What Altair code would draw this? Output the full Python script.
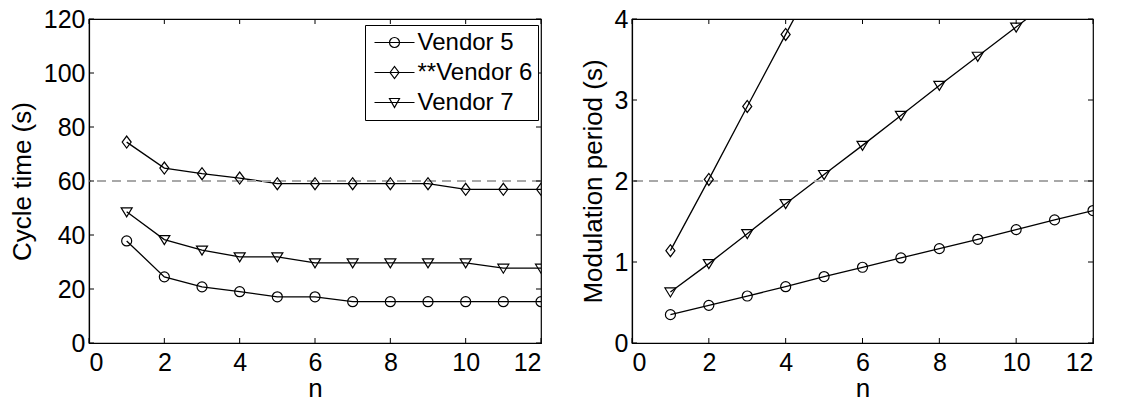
import altair as alt
import pandas as pd

# ---- data ----
n = list(range(1, 13))
vendors = ["Vendor 5", "**Vendor 6", "Vendor 7"]

cycle_v5 = [37.8, 24.5, 20.8, 19.0, 17.1, 17.1, 15.3, 15.3, 15.3, 15.3, 15.3, 15.3]
cycle_v6 = [74.4, 64.8, 62.7, 61.1, 59.0, 59.0, 59.0, 59.0, 59.0, 56.9, 56.9, 56.9]
cycle_v7 = [48.6, 38.3, 34.4, 31.9, 31.9, 29.7, 29.7, 29.7, 29.7, 29.7, 27.7, 27.7]

mod_v5 = [0.35, 0.465, 0.58, 0.695, 0.82, 0.935, 1.05, 1.165, 1.28, 1.40, 1.52, 1.635]
mod_v6 = [1.14, 2.02, 2.92, 3.81, 4.70]
mod_v7 = [0.63, 0.98, 1.35, 1.72, 2.08, 2.44, 2.81, 3.18, 3.54, 3.90, 4.27]

cycle_limit = 60
mod_limit = 2

x_ticks = [0, 2, 4, 6, 8, 10, 12]
cycle_ticks = [0, 20, 40, 60, 80, 100, 120]
mod_ticks = [0, 1, 2, 3, 4]

FONT = "Liberation Sans"
W1, W2, H = 452, 461, 324
TICK = 5


def long(series):
    rows = []
    for v, vals in zip(vendors, series):
        for i, y in enumerate(vals):
            rows.append({"n": n[i], "value": y, "vendor": v})
    return pd.DataFrame(rows)


cycle_df = long([cycle_v5, cycle_v6, cycle_v7])
mod_df = long([mod_v5, mod_v6, mod_v7])

marker_shapes = [
    "circle",
    "M-0.9,0L0,-1.2L0.9,0L0,1.2Z",
    "M-1.1,-0.8L1.1,-0.8L0,1Z",
]
legend_shapes = [
    "M-4,0H4M1,0A1,1,0,1,1,-1,0A1,1,0,1,1,1,0",
    "M-4,0H4M-0.9,0L0,-1.2L0.9,0L0,1.2Z",
    "M-4,0H4M-1,-0.8L1,-0.8L0,1Z",
]


def panel(df, ydom, yticks, ytitle, limit, width, with_legend):
    xs = alt.Scale(domain=[0, 12], nice=False, zero=False)
    ys = alt.Scale(domain=ydom, nice=False, zero=False)
    xa = alt.Axis(values=x_ticks, title="n", format="d")
    ya = alt.Axis(values=yticks, title=ytitle, format="d")
    x = alt.X("n:Q", scale=xs, axis=xa)
    y = alt.Y("value:Q", scale=ys, axis=ya)
    base = alt.Chart(df)

    ref = alt.Chart(df).mark_rule(color="#a8a8a8", strokeDash=[9, 6], strokeWidth=2).encode(
        y=alt.datum(limit)
    )
    lines = base.mark_line(color="black", strokeWidth=1.3, clip=True).encode(
        x=x, y=y, detail="vendor:N"
    )
    pts = base.mark_point(color="black", filled=False, size=100, strokeWidth=1.2, opacity=1, clip=True).encode(
        x=x, y=y,
        shape=alt.Shape("vendor:N", scale=alt.Scale(domain=vendors, range=marker_shapes), legend=None),
    )

    xt = pd.DataFrame({"n": x_ticks})
    yt = pd.DataFrame({"value": yticks})
    tick_b = alt.Chart(xt).mark_rule(color="black").encode(x=x, y=alt.value(H), y2=alt.value(H - TICK))
    tick_t = alt.Chart(xt).mark_rule(color="black").encode(x=x, y=alt.value(0), y2=alt.value(TICK))
    tick_l = alt.Chart(yt).mark_rule(color="black").encode(y=y, x=alt.value(0), x2=alt.value(TICK))
    tick_r = alt.Chart(yt).mark_rule(color="black").encode(y=y, x=alt.value(width), x2=alt.value(width - TICK))

    layers = [lines, ref, pts, tick_b, tick_t, tick_l, tick_r]
    if with_legend:
        leg = base.transform_filter("datum.n < 0").mark_point(color="black", filled=False, strokeWidth=1.2).encode(
            x=x, y=y,
            shape=alt.Shape(
                "vendor:N",
                scale=alt.Scale(domain=vendors, range=legend_shapes),
                legend=alt.Legend(
                    title=None, orient="none", legendX=276, legendY=6,
                    strokeColor="black", fillColor="white", padding=5.5,
                    labelFont=FONT, labelFontSize=24, labelColor="black",
                    symbolSize=100, symbolStrokeColor="black", symbolStrokeWidth=1.2,
                    symbolFillColor="transparent", symbolOpacity=1,
                    symbolOffset=12, labelOffset=11, rowPadding=6,
                ),
            ),
        )
        layers.append(leg)
    ch = alt.layer(*layers).properties(width=width, height=H)
    if with_legend:
        ch = ch.resolve_scale(shape="independent")
    return ch


left = panel(cycle_df, [0, 120], cycle_ticks, "Cycle time (s)", cycle_limit, W1, True)
right = panel(mod_df, [0, 4], mod_ticks, "Modulation period (s)", mod_limit, W2, False)

chart = alt.hconcat(left, right, spacing=36).properties(
    padding={"left": 0, "top": -2, "right": 0, "bottom": 0}
).configure_view(
    stroke="black", strokeWidth=1.2
).configure_axis(
    labelFont=FONT, labelFontSize=25, labelColor="black",
    titleFont=FONT, titleFontSize=26, titleFontWeight="normal", titleColor="black",
    ticks=False, grid=False, domainColor="black", domainWidth=1.2,
).configure_axisX(labelPadding=7, titlePadding=0).configure_axisY(labelPadding=4, titlePadding=8)

chart.save("out.html", embed_options={"renderer": "svg", "actions": False})
